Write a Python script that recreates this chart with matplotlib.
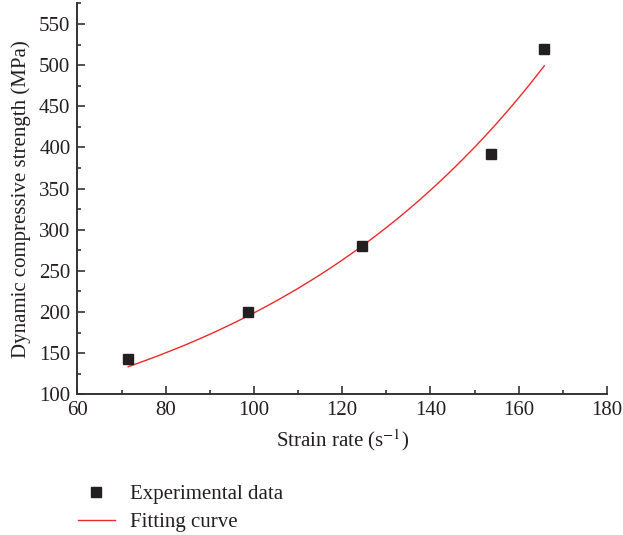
import numpy as np
import matplotlib.pyplot as plt
from matplotlib.lines import Line2D
from matplotlib.ticker import MultipleLocator

# experimental points
strain_rate = [71.5, 98.7, 124.4, 153.7, 165.8]
strength = [143, 200, 280, 392, 520]

# fitted curve, sampled along the drawn line
fit_x = [71.5, 74, 76, 78, 80, 82.5, 85, 87.5, 90, 92.5, 95, 97.5, 100,
         102.5, 105, 107.5, 110, 112.5, 115, 117.5, 120, 122.5, 125, 127.5,
         130, 132.5, 135, 137.5, 140, 142.5, 145, 147.5, 150, 152.5, 155,
         157.5, 160, 162.5, 165.8]
fit_y = [133.5, 138.3, 142.2, 146.2, 150.4, 155.7, 161.2, 167.0, 172.9,
         179.1, 185.5, 192.1, 198.9, 206.0, 213.3, 220.9, 228.7, 236.9,
         245.3, 254.0, 263.1, 272.4, 282.1, 292.2, 302.6, 313.3, 324.5,
         336.0, 348.0, 360.4, 373.2, 386.5, 400.2, 414.5, 429.2, 444.5,
         460.3, 476.7, 499.2]

plt.rcParams['font.family'] = ['Liberation Serif', 'DejaVu Serif']
plt.rcParams['mathtext.fontset'] = 'stix'

DARK = '#231f20'
RED = '#ee2a2a'

fig = plt.figure(figsize=(6.23, 5.35), dpi=100)
ax = fig.add_axes([0.1242, 0.263, 0.8501, 0.7306])

ax.plot(fit_x, fit_y, color=RED, lw=1.0, zorder=2)
ax.plot(strain_rate, strength, ls='none', marker='s', ms=7.5,
        color=DARK, zorder=3)

ax.set_xlim(60, 180)
ax.set_ylim(100, 575)
ax.xaxis.set_major_locator(MultipleLocator(20))
ax.xaxis.set_minor_locator(MultipleLocator(10))
ax.yaxis.set_major_locator(MultipleLocator(50))
ax.yaxis.set_minor_locator(MultipleLocator(25))

for side in ['top', 'right']:
    ax.spines[side].set_visible(False)
for side in ['left', 'bottom']:
    ax.spines[side].set_color('#333333')
    ax.spines[side].set_linewidth(1.4)

ax.tick_params(which='both', direction='in', colors='#333333', width=1.2,
               labelsize=15, labelcolor=DARK)
ax.tick_params(which='major', length=6, pad=5)
ax.tick_params(which='minor', length=3.2)

ax.set_xlabel('Strain rate (s$^{-1}$)', fontsize=15, color=DARK, labelpad=5)
ax.set_ylabel('Dynamic compressive strength (MPa)', fontsize=15, color=DARK,
              labelpad=6)

handles = [
    Line2D([], [], ls='none', marker='s', ms=7.5, color=DARK),
    Line2D([], [], color=RED, lw=1.0),
]
fig.legend(handles, ['Experimental data', 'Fitting curve'],
           loc='upper left', bbox_to_anchor=(0.112, 0.110),
           frameon=False, fontsize=15, handlelength=1.75,
           handletextpad=0.75, labelspacing=0.4, borderaxespad=0,
           labelcolor=DARK)

fig.savefig('out.png', dpi=100)
